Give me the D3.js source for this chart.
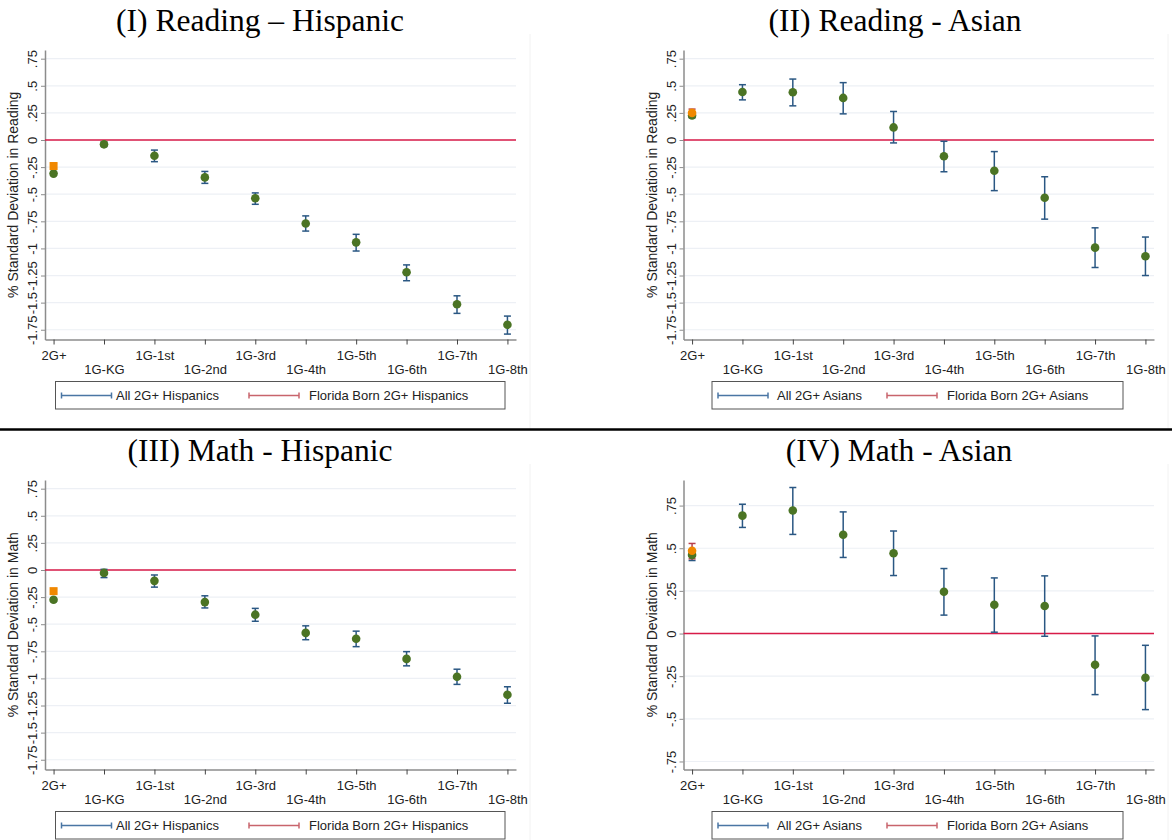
<!DOCTYPE html>
<html>
<head>
<meta charset="utf-8">
<script src="https://cdnjs.cloudflare.com/ajax/libs/d3/7.8.5/d3.min.js"></script>
<style>
    body { margin: 0; background: #fff; }
    svg { display: block; }
</style>
</head>
<body>
<svg id="chart" width="1172" height="840"></svg>
<script>
// ==========================================================
// DATA
// ==========================================================

const categories = ["2G+", "1G-KG", "1G-1st", "1G-2nd", "1G-3rd", "1G-4th", "1G-5th", "1G-6th", "1G-7th", "1G-8th"];

// (I) Reading - Hispanic
const readHispEst = [-0.31, -0.04, -0.146, -0.345, -0.537, -0.77, -0.944, -1.22, -1.515, -1.704];
const readHispLo  = [-0.326, -0.06, -0.20, -0.40, -0.593, -0.84, -1.024, -1.298, -1.599, -1.79];
const readHispHi  = [-0.294, -0.02, -0.093, -0.29, -0.488, -0.70, -0.87, -1.152, -1.437, -1.624];
const readHispFL  = [-0.24, -0.26, -0.22];   // estimate, low, high

// (II) Reading - Asian
const readAsianEst = [0.226, 0.443, 0.44, 0.388, 0.116, -0.15, -0.284, -0.532, -0.993, -1.072];
const readAsianLo  = [0.205, 0.37, 0.315, 0.241, -0.027, -0.293, -0.467, -0.73, -1.176, -1.25];
const readAsianHi  = [0.247, 0.51, 0.562, 0.529, 0.263, -0.012, -0.107, -0.339, -0.81, -0.895];
const readAsianFL  = [0.25, 0.21, 0.285];

// (III) Math - Hispanic
const mathHispEst = [-0.274, -0.027, -0.10, -0.296, -0.412, -0.58, -0.634, -0.82, -0.985, -1.15];
const mathHispLo  = [-0.29, -0.07, -0.158, -0.35, -0.473, -0.643, -0.707, -0.884, -1.055, -1.229];
const mathHispHi  = [-0.258, 0.006, -0.046, -0.238, -0.354, -0.515, -0.564, -0.753, -0.915, -1.077];
const mathHispFL  = [-0.195, -0.215, -0.175];

// (IV) Math - Asian
const mathAsianEst = [0.461, 0.691, 0.721, 0.579, 0.471, 0.245, 0.169, 0.161, -0.183, -0.259];
const mathAsianLo  = [0.428, 0.622, 0.581, 0.446, 0.34, 0.108, 0.008, -0.016, -0.358, -0.446];
const mathAsianHi  = [0.49, 0.758, 0.856, 0.713, 0.601, 0.381, 0.326, 0.338, -0.014, -0.069];
const mathAsianFL  = [0.485, 0.438, 0.528];

const wideTicks  = [0.75, 0.5, 0.25, 0, -0.25, -0.5, -0.75, -1, -1.25, -1.5, -1.75];
const narrowTicks = [0.75, 0.5, 0.25, 0, -0.25, -0.5, -0.75];

// ==========================================================
// STYLE
// ==========================================================

const SANS = "'Liberation Sans', Arial, sans-serif";
const SERIF = "'Liberation Serif', 'Times New Roman', serif";
const GREEN = "#4b7424";
const NAVY = "#2a5783";
const ORANGE = "#f08800";
const FL_RED = "#b8404e";
const ZERO_RED = "#d81b48";
const AXIS_GREY = "#8c8c8c";
const GRID = "#edf0f5";

// ==========================================================
// PANELS
// ==========================================================

const panels = [
    { title: "(I) Reading \u2013 Hispanic", ylab: "% Standard Deviation in Reading",
      est: readHispEst, lo: readHispLo, hi: readHispHi, fl: readHispFL,
      ticks: wideTicks, domain: [-1.84, 0.83], group: "Hispanics", flShape: "square",
      x0: 45, x1: 516, top: 50, bottom: 339.5, titleX: 260,
      legend: [55.5, 505, 116, 309] },
    { title: "(II) Reading - Asian", ylab: "% Standard Deviation in Reading",
      est: readAsianEst, lo: readAsianLo, hi: readAsianHi, fl: readAsianFL,
      ticks: wideTicks, domain: [-1.84, 0.83], group: "Asians", flShape: "circle",
      x0: 683.5, x1: 1154, top: 50, bottom: 339.5, titleX: 895,
      legend: [712, 1123, 777, 947] },
    { title: "(III) Math - Hispanic", ylab: "% Standard Deviation in Math",
      est: mathHispEst, lo: mathHispLo, hi: mathHispHi, fl: mathHispFL,
      ticks: wideTicks, domain: [-1.84, 0.83], group: "Hispanics", flShape: "square",
      x0: 45, x1: 516, top: 480, bottom: 769.5, titleX: 260,
      legend: [55.5, 505, 116, 309] },
    { title: "(IV) Math - Asian", ylab: "% Standard Deviation in Math",
      est: mathAsianEst, lo: mathAsianLo, hi: mathAsianHi, fl: mathAsianFL,
      ticks: narrowTicks, domain: [-0.797, 0.9], group: "Asians", flShape: "circle",
      x0: 683.5, x1: 1154, top: 480, bottom: 769.5, titleX: 899,
      legend: [712, 1123, 777, 947] }
];

function tickFmt(d) {
    if (d === 0) return "0";
    return String(d).replace("0.", ".");
}

// error bar with caps
function drawBar(g, x, yLo, yHi, color, capW) {
    g.append("line")
        .attr("x1", x).attr("x2", x)
        .attr("y1", yLo).attr("y2", yHi)
        .attr("stroke", color).attr("stroke-width", 1.5);
    [yLo, yHi].forEach(yy => {
        g.append("line")
            .attr("x1", x - capW).attr("x2", x + capW)
            .attr("y1", yy).attr("y2", yy)
            .attr("stroke", color).attr("stroke-width", 1.5);
    });
}

function drawPanel(svg, p) {
    const g = svg.append("g");

    const x = d3.scalePoint()
        .domain(categories)
        .range([p.x0, p.x1])
        .padding(0.17);

    const y = d3.scaleLinear()
        .domain(p.domain)
        .range([p.bottom, p.top]);

    // faint graph-region edge on the right
    g.append("line")
        .attr("x1", p.x1 + 14).attr("x2", p.x1 + 14)
        .attr("y1", p.top - 16).attr("y2", p.bottom + 90)
        .attr("stroke", "#f2f2f2").attr("stroke-width", 1);

    // title
    g.append("text")
        .attr("x", p.titleX).attr("y", p.top - 19)
        .attr("text-anchor", "middle")
        .attr("font-family", SERIF).attr("font-size", 31.5)
        .attr("fill", "#000")
        .text(p.title);

    // grid
    g.append("g").selectAll("line")
        .data(p.ticks)
        .join("line")
        .attr("x1", p.x0).attr("x2", p.x1)
        .attr("y1", d => y(d)).attr("y2", d => y(d))
        .attr("stroke", GRID).attr("stroke-width", 1.2);

    // y axis
    const yAxis = g.append("g")
        .attr("transform", `translate(${p.x0},0)`)
        .call(d3.axisLeft(y).tickValues(p.ticks).tickSize(4).tickSizeOuter(0).tickFormat(tickFmt));
    yAxis.select(".domain").attr("stroke", AXIS_GREY).attr("stroke-width", 1.5);
    yAxis.selectAll(".tick line").attr("stroke", AXIS_GREY);
    yAxis.selectAll(".tick text")
        .attr("x", null).attr("dy", null)
        .attr("text-anchor", "middle")
        .attr("transform", "translate(-8,0) rotate(-90)")
        .attr("font-family", SANS).attr("font-size", 13)
        .attr("fill", "#222");

    // y label
    g.append("text")
        .attr("transform", `translate(${p.x0 - 27},${(p.top + p.bottom) / 2}) rotate(-90)`)
        .attr("text-anchor", "middle")
        .attr("font-family", SANS).attr("font-size", 14)
        .attr("fill", "#222")
        .text(p.ylab);

    // x axis
    const xAxis = g.append("g")
        .attr("transform", `translate(0,${p.bottom})`)
        .call(d3.axisBottom(x).tickSize(5).tickSizeOuter(0));
    xAxis.select(".domain").attr("stroke", AXIS_GREY).attr("stroke-width", 1.5);
    xAxis.selectAll(".tick line").attr("stroke", "#444");
    xAxis.selectAll(".tick text")
        .attr("y", (d, i) => (i % 2 === 0 ? 11 : 25))
        .attr("font-family", SANS).attr("font-size", 13)
        .attr("fill", "#222");

    // zero line
    g.append("line")
        .attr("x1", p.x0).attr("x2", p.x1)
        .attr("y1", y(0)).attr("y2", y(0))
        .attr("stroke", ZERO_RED).attr("stroke-width", 1.5);

    // confidence intervals + estimates
    const marks = g.append("g");
    categories.forEach((c, i) => {
        drawBar(marks, x(c), y(p.lo[i]), y(p.hi[i]), NAVY, 3.5);
    });
    // Florida born 2G+
    drawBar(marks, x(categories[0]), y(p.fl[1]), y(p.fl[2]), FL_RED, 3.5);

    marks.selectAll("circle.est")
        .data(p.est)
        .join("circle")
        .attr("class", "est")
        .attr("cx", (d, i) => x(categories[i]))
        .attr("cy", d => y(d))
        .attr("r", 4.3)
        .attr("fill", GREEN);

    if (p.flShape === "square") {
        marks.append("rect")
            .attr("x", x(categories[0]) - 4).attr("y", y(p.fl[0]) - 4)
            .attr("width", 8).attr("height", 8)
            .attr("fill", ORANGE);
    } else {
        marks.append("circle")
            .attr("cx", x(categories[0])).attr("cy", y(p.fl[0]))
            .attr("r", 4.3).attr("fill", ORANGE);
    }

    // legend
    const [lx0, lx1, t1, t2] = p.legend;
    const ly = p.bottom + 42;
    const lg = g.append("g");
    lg.append("rect")
        .attr("x", lx0).attr("y", ly).attr("width", lx1 - lx0).attr("height", 27.5)
        .attr("fill", "#fff").attr("stroke", "#555").attr("stroke-width", 1);
    const items = [
        { color: "#4a76a4", x: lx0 + 6, tx: t1, label: `All 2G+ ${p.group}` },
        { color: "#c8646c", x: t2 - 60, tx: t2, label: `Florida Born 2G+ ${p.group}` }
    ];
    items.forEach(it => {
        const yy = ly + 14;
        lg.append("line").attr("x1", it.x).attr("x2", it.x + 50)
            .attr("y1", yy).attr("y2", yy)
            .attr("stroke", it.color).attr("stroke-width", 1.5);
        [it.x, it.x + 50].forEach(cx => {
            lg.append("line").attr("x1", cx).attr("x2", cx)
                .attr("y1", yy - 3).attr("y2", yy + 3)
                .attr("stroke", it.color).attr("stroke-width", 1.5);
        });
        lg.append("text")
            .attr("x", it.tx).attr("y", yy + 4.5)
            .attr("font-family", SANS).attr("font-size", 13)
            .attr("fill", "#222")
            .text(it.label);
    });
}

// ==========================================================
// BOOTSTRAP
// ==========================================================

const svg = d3.select("#chart");
svg.append("rect").attr("width", 1172).attr("height", 840).attr("fill", "#fff");
panels.forEach(p => drawPanel(svg, p));

// separator between the two rows
svg.append("line")
    .attr("x1", 0).attr("x2", 1172)
    .attr("y1", 429.5).attr("y2", 429.5)
    .attr("stroke", "#000").attr("stroke-width", 2.5);
</script>
</body>
</html>
